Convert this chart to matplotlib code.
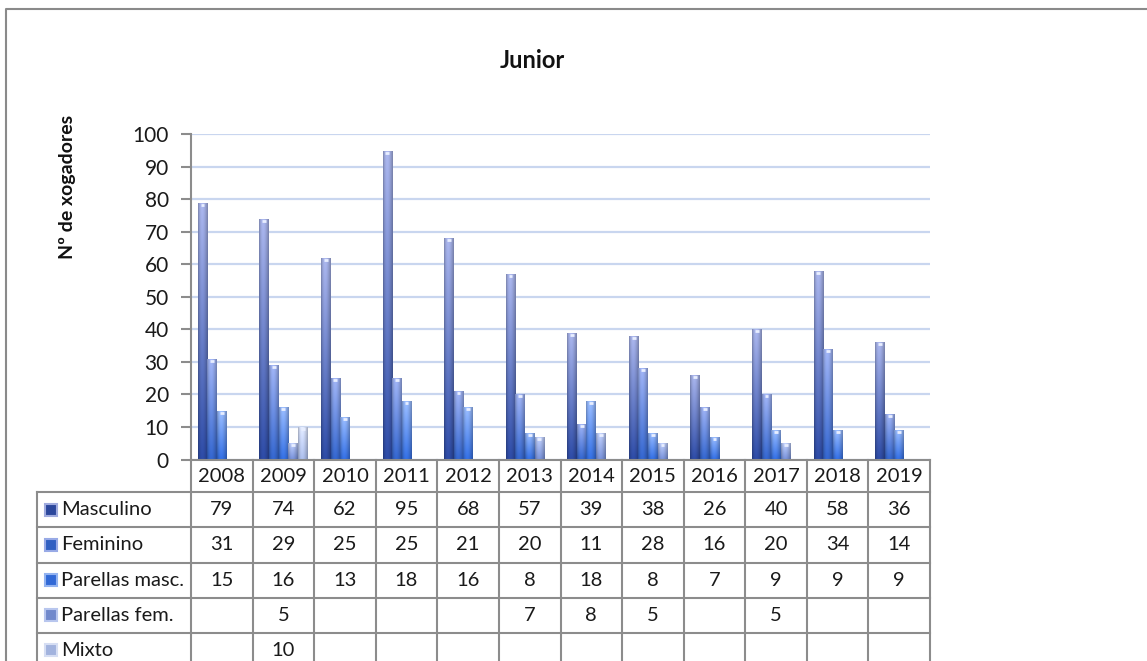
import numpy as np
import matplotlib
matplotlib.use("Agg")
from matplotlib import pyplot as plt
from matplotlib.colors import to_rgb
from matplotlib.patches import Rectangle

plt.rcParams["font.family"] = ["Lato", "DejaVu Sans"]

years = ["2008", "2009", "2010", "2011", "2012", "2013", "2014", "2015", "2016", "2017", "2018", "2019"]
series_names = ["Masculino", "Feminino", "Parellas masc.", "Parellas fem.", "Mixto"]
masculino = [79, 74, 62, 95, 68, 57, 39, 38, 26, 40, 58, 36]
feminino = [31, 29, 25, 25, 21, 20, 11, 28, 16, 20, 34, 14]
parellas_masc = [15, 16, 13, 18, 16, 8, 18, 8, 7, 9, 9, 9]
parellas_fem = [None, 5, None, None, None, 7, 8, 5, None, 5, None, None]
mixto = [None, 10, None, None, None, None, None, None, None, None, None, None]
series = [masculino, feminino, parellas_masc, parellas_fem, mixto]

# (top colour, bottom colour) of each bar gradient
bar_colors = [
    ("#a0abde", "#2b479c"),
    ("#98aae6", "#3160c2"),
    ("#93b3f0", "#3169d6"),
    ("#b8c6ee", "#7189cc"),
    ("#d6def3", "#a2b3de"),
]

W, H = 1147, 661
fig = plt.figure(figsize=(W / 100, H / 100), dpi=100)

# pixel layout of the plot area and the data table
x_left, x_right = 191, 930
y_top, y_zero = 134.3, 459.5
ax = fig.add_axes([x_left / W, 1 - y_zero / H, (x_right - x_left) / W, (y_zero - y_top) / H])
ax.set_xlim(-0.5, len(years) - 0.5)
ax.set_ylim(0, 100)
ax.set_yticks(np.arange(0, 101, 10))
ax.set_xticks([])
ax.tick_params(axis="y", direction="out", length=7, width=1.5, color="#8c8c8c",
               labelsize=15, labelcolor="#1a1a1a", pad=9)
for s in ["top", "right", "bottom"]:
    ax.spines[s].set_visible(False)
ax.spines["left"].set_color("#8c8c8c")
ax.spines["left"].set_linewidth(1.5)
ax.yaxis.grid(True, color="#c9d6ef", linewidth=1.6)
ax.set_axisbelow(True)

n = len(series)
bw = 0.156
for j, vals in enumerate(series):
    top_c, bot_c = np.array(to_rgb(bar_colors[j][0])), np.array(to_rgb(bar_colors[j][1]))
    for i, v in enumerate(vals):
        if v is None:
            continue
        x0 = i - n * bw / 2 + j * bw
        rect = Rectangle((x0, 0), bw, v, facecolor="none", edgecolor="none")
        ax.add_patch(rect)
        t = np.linspace(1, 0, 64)[:, None, None]
        grad = bot_c + (top_c - bot_c) * t
        xs = np.linspace(0, 1, 24)[None, :, None]
        shade = 0.78 + 0.3 * np.sin(np.pi * xs ** 0.8)
        img = np.clip(grad * shade, 0, 1)
        im = ax.imshow(img, extent=(x0, x0 + bw, 0, v), aspect="auto", interpolation="bilinear",
                       zorder=2)
        im.set_clip_path(rect)
        ax.plot([x0 + bw * 0.3, x0 + bw * 0.7], [v - 0.6, v - 0.6], color="#e8eeff",
                linewidth=2, solid_capstyle="butt", zorder=3)

# overlay in pixel coordinates for table, title, frame
ov = fig.add_axes([0, 0, 1, 1], facecolor="none")
ov.set_xlim(0, W)
ov.set_ylim(H, 0)
ov.axis("off")

ov.plot([6, 6, W], [H, 9, 9], color="#8a8a8a", linewidth=1.5)
ov.text(532, 60, "Junior", ha="center", va="center", fontsize=17, fontweight="bold", color="#111111")
ov.text(68, 187, "Nº de xogadores", ha="center", va="center", rotation=90,
        fontsize=14, fontweight="bold", color="#111111")

line_c = "#8c8c8c"
lw = 1.5
cw = (x_right - x_left) / len(years)
col_x = [x_left + k * cw for k in range(len(years) + 1)]
row_y = [492, 527.3, 562.5, 597.6, 632.7, 667.8]
tab_left = 37
fs = 14.5

# header row with years
for xb in col_x:
    ov.plot([xb, xb], [y_zero, H], color=line_c, linewidth=lw)
ov.plot([x_left, x_right], [y_zero, y_zero], color=line_c, linewidth=lw)
for k, yr in enumerate(years):
    ov.text(col_x[k] + cw / 2, (y_zero + row_y[0]) / 2 + 1, yr, ha="center", va="center",
            fontsize=fs, color="#1a1a1a")

# series rows
ov.plot([tab_left, tab_left], [row_y[0], H], color=line_c, linewidth=lw)
for yb in row_y:
    ov.plot([tab_left, x_right], [yb, yb], color=line_c, linewidth=lw)
for j, (name, vals) in enumerate(zip(series_names, series)):
    yc = (row_y[j] + row_y[j + 1]) / 2
    top_c, bot_c = bar_colors[j]
    ov.add_patch(Rectangle((45, yc - 6), 12, 12, facecolor=bot_c, edgecolor=top_c, linewidth=1.5))
    ov.text(61, yc, name, ha="left", va="center", fontsize=fs, color="#1a1a1a")
    for k, v in enumerate(vals):
        if v is not None:
            ov.text(col_x[k] + cw / 2, yc, str(v), ha="center", va="center", fontsize=fs,
                    color="#1a1a1a")

plt.savefig("out.png", dpi=100)
plt.close(fig)
